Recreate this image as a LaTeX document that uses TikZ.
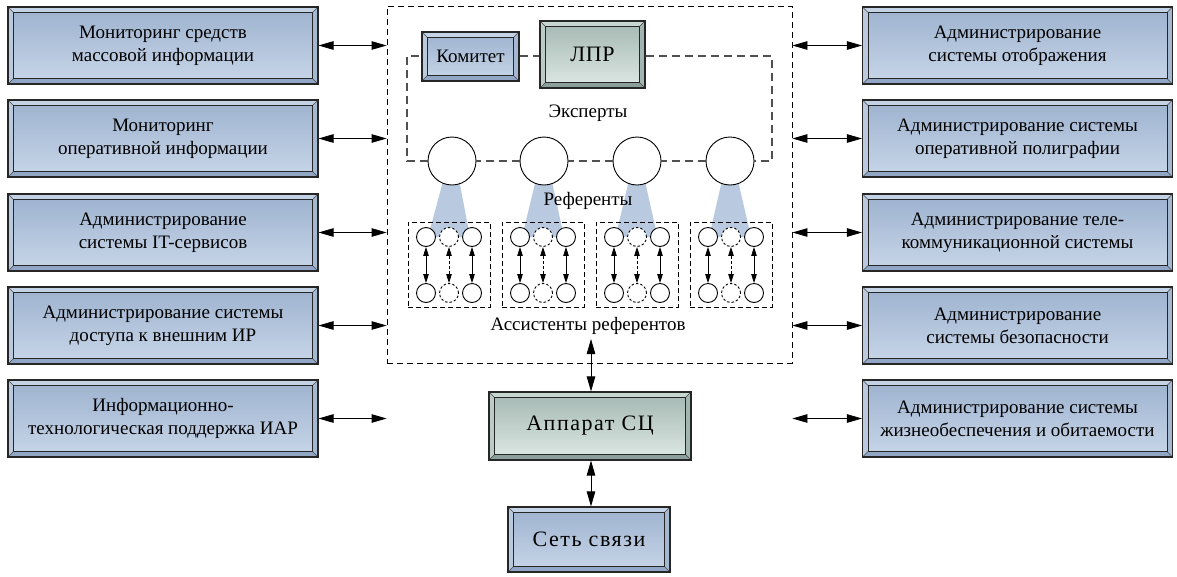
\documentclass[tikz,border=0pt]{standalone}
\usepackage{fontspec}
\setmainfont{Liberation Serif}
\newfontfamily\spacedfont[LetterSpace=7]{Liberation Serif}
\newfontfamily\tightspaced[LetterSpace=3]{Liberation Serif}
\usetikzlibrary{arrows.meta}

\definecolor{bluetop}{HTML}{9DB2CF}
\definecolor{bluebot}{HTML}{C8D6E8}
\definecolor{bluelight}{HTML}{C4D2E5}
\definecolor{bluedark}{HTML}{90A6C4}
\definecolor{greentop}{HTML}{A4B7B2}
\definecolor{greenbot}{HTML}{DEE9E4}
\definecolor{greenlight}{HTML}{C8D6D2}
\definecolor{greendark}{HTML}{8A9F99}
\definecolor{beam}{HTML}{B9C9DF}
\definecolor{loopgray}{HTML}{505050}

\tikzset{
  bev/.style n args={4}{shade, top color=#1, bottom color=#2, draw=black!85,
    line width=1.1pt, inner sep=2pt, align=center,
    path picture={
      \coordinate (bnw) at (path picture bounding box.north west);
      \coordinate (bne) at (path picture bounding box.north east);
      \coordinate (bsw) at (path picture bounding box.south west);
      \coordinate (bse) at (path picture bounding box.south east);
      \coordinate (inw) at ([shift={(5.5pt,-5.5pt)}]bnw);
      \coordinate (ine) at ([shift={(-5.5pt,-5.5pt)}]bne);
      \coordinate (isw) at ([shift={(5.5pt,5.5pt)}]bsw);
      \coordinate (ise) at ([shift={(-5.5pt,5.5pt)}]bse);
      \fill[#3] (bnw) -- (bne) -- (ine) -- (inw) -- cycle;
      \fill[#3!80!#4] (bnw) -- (inw) -- (isw) -- (bsw) -- cycle;
      \fill[#4] (bsw) -- (isw) -- (ise) -- (bse) -- cycle;
      \fill[#4!60!#3] (bse) -- (ise) -- (ine) -- (bne) -- cycle;
      \draw[line width=0.5pt, black!70] (bnw) -- (inw) (bne) -- (ine)
        (bsw) -- (isw) (bse) -- (ise);
      \draw[line width=0.9pt, black!85] (inw) rectangle (ise);
    }},
  bluebox/.style={bev={bluetop}{bluebot}{bluelight}{bluedark}},
  greenbox/.style={bev={greentop}{greenbot}{greenlight}{greendark}},
  sidebox/.style={bluebox, minimum width=310pt, minimum height=77pt,
    font=\fontsize{19}{23}\selectfont},
  lbl/.style={font=\fontsize{19}{23}\selectfont, inner sep=1pt},
  biarrow/.style={line width=0.8pt,
    arrows={Triangle[length=15pt,width=8.5pt]-Triangle[length=15pt,width=8.5pt]}},
  smallarrow/.style={line width=0.8pt,
    arrows={Triangle[length=9pt,width=5.5pt]-Triangle[length=9pt,width=5.5pt]}},
  outerframe/.style={draw, line width=0.8pt, dash pattern=on 6pt off 4pt},
  expertloop/.style={draw=loopgray, line width=1.2pt, dash pattern=on 8pt off 5pt},
  groupframe/.style={draw, line width=0.8pt, dash pattern=on 5pt off 3pt},
  expert/.style={circle, draw, fill=white, line width=0.9pt,
    minimum size=48pt, inner sep=0pt},
  asst/.style={circle, draw, fill=white, line width=0.9pt,
    minimum size=19pt, inner sep=0pt},
  asstopt/.style={asst, dash pattern=on 2.5pt off 2pt},
}

\begin{document}
\begin{tikzpicture}[x=1pt, y=-1pt]
\useasboundingbox (0,0) rectangle (1177,576);

% outer frame of the analytic centre
\node[outerframe, minimum width=405pt, minimum height=357pt, inner sep=0pt]
  (core) at (589.5,184.5) {};

% left column
\node[sidebox] (L1) at (163,45.5) {Мониторинг средств\\массовой информации};
\node[sidebox] (L2) at (163,138.5) {Мониторинг\\оперативной информации};
\node[sidebox] (L3) at (163,232.5) {Администрирование\\системы IT-сервисов};
\node[sidebox] (L4) at (163,325.5) {Администрирование системы\\доступа к внешним ИР};
\node[sidebox] (L5) at (163,418.5) {Информационно-\\технологическая поддержка ИАР};

% right column
\node[sidebox] (R1) at (1017.5,45.5) {Администрирование\\системы отображения};
\node[sidebox] (R2) at (1017.5,138.5) {Администрирование системы\\оперативной полиграфии};
\node[sidebox] (R3) at (1017.5,232.5) {Администрирование теле-\\коммуникационной системы};
\node[sidebox] (R4) at (1017.5,325.5) {Администрирование\\системы безопасности};
\node[sidebox] (R5) at (1017.5,418.5) {Администрирование системы\\жизнеобеспечения и обитаемости};

% links to the frame
\foreach \i in {1,...,5} {
  \draw[biarrow] (L\i.east) -- (L\i.east -| core.west);
  \draw[biarrow] (R\i.west -| core.east) -- (R\i.west);
}

% decision makers
\node[bluebox, minimum width=97pt, minimum height=49pt,
  font=\fontsize{19}{23}\selectfont] (kom) at (470.5,56.5) {Комитет};
\node[greenbox, minimum width=105pt, minimum height=67pt,
  font=\tightspaced\fontsize{22}{25}\selectfont] (lpr) at (592.5,54.5) {ЛПР};

% expert group
\foreach \i/\cx/\bx in {1/452/449, 2/544/543, 3/637/636.5, 4/730/730} {
  \fill[beam] (\cx-3.5,161) -- (\cx+3.5,161) -- (\bx+21,237) -- (\bx-21,237) -- cycle;
}
\foreach \i/\cx in {1/452, 2/544, 3/637, 4/730} {
  \node[expert] (e\i) at (\cx,161) {};
}

\coordinate (lpL) at (407,56);
\coordinate (lpR) at (772,56);
\coordinate (lpRb) at (772,161);
\coordinate (lpLb) at (407,161);
\draw[expertloop] (kom.east |- lpL) -- (lpr.west |- lpL);
\draw[expertloop] (lpr.east |- lpR) -- (lpR) -- (lpRb) -- (e4.east);
\draw[expertloop] (e4.west) -- (e3.east);
\draw[expertloop] (e3.west) -- (e2.east);
\draw[expertloop] (e2.west) -- (e1.east);
\draw[expertloop] (e1.west) -- (lpLb) -- (lpL) -- (kom.west |- lpL);

% assistant groups
\foreach \i/\bx in {1/449, 2/543, 3/637, 4/731} {
  \node[groupframe, minimum width=82pt, minimum height=85pt, inner sep=0pt]
    (g\i) at (\bx,264.5) {};
  \node[asst]    (a\i t1) at (\bx-23,237) {};
  \node[asstopt] (a\i t2) at (\bx,237) {};
  \node[asst]    (a\i t3) at (\bx+23,237) {};
  \node[asst]    (a\i b1) at (\bx-23,293) {};
  \node[asstopt] (a\i b2) at (\bx,293) {};
  \node[asst]    (a\i b3) at (\bx+23,293) {};
  \draw[smallarrow] (a\i t1) -- (a\i b1);
  \draw[smallarrow, dash pattern=on 3pt off 2pt] (a\i t2) -- (a\i b2);
  \draw[smallarrow] (a\i t3) -- (a\i b3);
}

% labels
\node[lbl] (lexp) at (588,113) {Эксперты};
\node[lbl] (lref) at (588,201) {Референты};
\node[lbl] (lasst) at (588,326) {Ассистенты референтов};

% staff and network
\node[greenbox, minimum width=202pt, minimum height=68pt,
  font=\spacedfont\fontsize{22}{25}\selectfont] (app) at (590,426) {Аппарат СЦ};
\node[bluebox, minimum width=162pt, minimum height=65pt,
  font=\spacedfont\fontsize{22}{25}\selectfont] (net) at (589,539.5) {Сеть связи};

\coordinate (coreout) at (591,339);
\draw[biarrow] (coreout) -- (coreout |- app.north);
\draw[biarrow] (app.south -| coreout) -- (net.north -| coreout);
\end{tikzpicture}
\end{document}
